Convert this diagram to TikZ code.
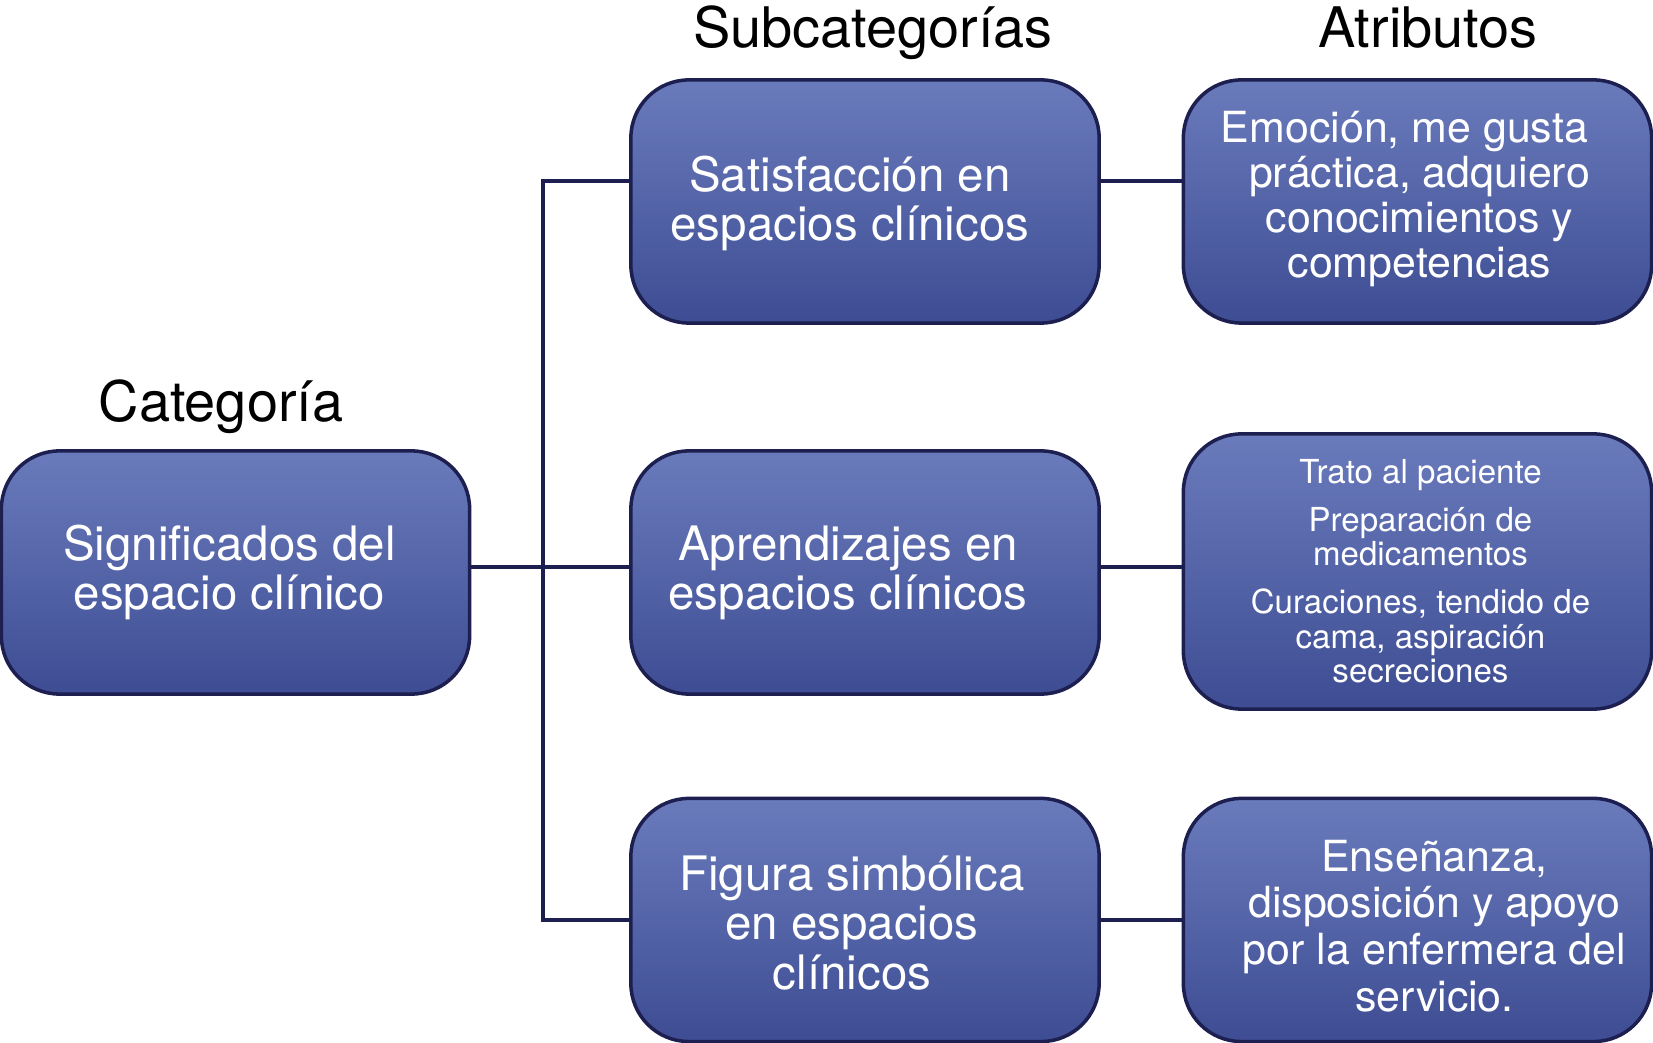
\documentclass[tikz,border=0pt]{standalone}
\usepackage{fontspec}
\setmainfont{TeX Gyre Heros}
\definecolor{boxtop}{HTML}{6A7BBC}
\definecolor{boxbot}{HTML}{3E4D93}
\definecolor{boxline}{HTML}{1C1F4F}
\begin{document}
\begin{tikzpicture}[x=0.01cm,y=-0.01cm,
    box/.style={draw=boxline,line width=1pt,rounded corners=0.58cm,top color=boxtop,bottom color=boxbot,
      inner sep=0pt,minimum width=4.68cm,minimum height=2.43cm},
    lab/.style={text=white,align=center,inner sep=0pt},
    big/.style={font=\fontsize{13.5}{14}\selectfont},
    mid/.style={font=\fontsize{12.2}{12.8}\selectfont},
    small/.style={font=\fontsize{9.4}{9.9}\selectfont},
    head/.style={anchor=base,font=\fontsize{15.9}{17}\selectfont},
    link/.style={draw=boxline,line width=0.9pt}]

  \useasboundingbox (0,0) rectangle (1653,1043);

  % headers
  \node[head] (hcat) at (221,422) {Categoría};
  \node[head] (hsub) at (873,48) {Subcategorías};
  \node[head] (hatr) at (1428,48) {Atributos};

  % category
  \node[box] (cat) at (235.5,572.5) {};
  \node[lab,big] (catl) at ([xshift=-0.06cm]cat.center) {Significados del\\espacio clínico};

  % subcategories
  \node[box] (sat) at (865,201.5) {};
  \node[box] (apr) at (865,572.5) {};
  \node[box] (fig) at (865,920) {};
  \node[lab,big] (satl) at ([xshift=-0.15cm,yshift=-0.02cm]sat.center) {Satisfacción en\\espacios clínicos};
  \node[lab,big] (aprl) at ([xshift=-0.17cm]apr.center) {Aprendizajes en\\espacios clínicos};
  \node[lab,big] (figl) at ([xshift=-0.13cm,yshift=-0.03cm]fig.center) {Figura simbólica\\en espacios\\clínicos};

  % attributes
  \node[box] (emo) at (1417.5,201.5) {};
  \node[box,minimum height=2.75cm] (tra) at (1417.5,571.5) {};
  \node[box] (ens) at (1417.5,920) {};
  \node[lab,mid] (emol) at ([xshift=0.02cm,yshift=0.02cm]emo.center)
    {Emoción, me gusta\hspace*{0.3cm}\\práctica, adquiero\\conocimientos y\\competencias};
  \node[lab,small] (tral) at ([xshift=0.03cm]tra.center)
    {Trato al paciente\\[3.6pt]Preparación de\\medicamentos\\[3.6pt]Curaciones, tendido de\\cama, aspiración\\secreciones};
  \node[lab,font=\fontsize{12.2}{13.3}\selectfont] (ensl) at ([xshift=0.17cm,yshift=-0.06cm]ens.center)
    {Enseñanza,\\disposición y apoyo\\por la enfermera del\\servicio.};

  % connectors
  \coordinate (top) at (543,181);
  \coordinate (fork) at (543,567);
  \coordinate (low) at (543,920);
  \draw[link] (cat.east |- fork) -- (apr.west |- fork);
  \draw[link] (sat.west |- top) -- (top) -- (low) -- (fig.west |- low);
  \draw[link] (sat.east |- top) -- (emo.west |- top);
  \draw[link] (apr.east |- fork) -- (tra.west |- fork);
  \draw[link] (fig.east |- low) -- (ens.west |- low);
\end{tikzpicture}
\end{document}
